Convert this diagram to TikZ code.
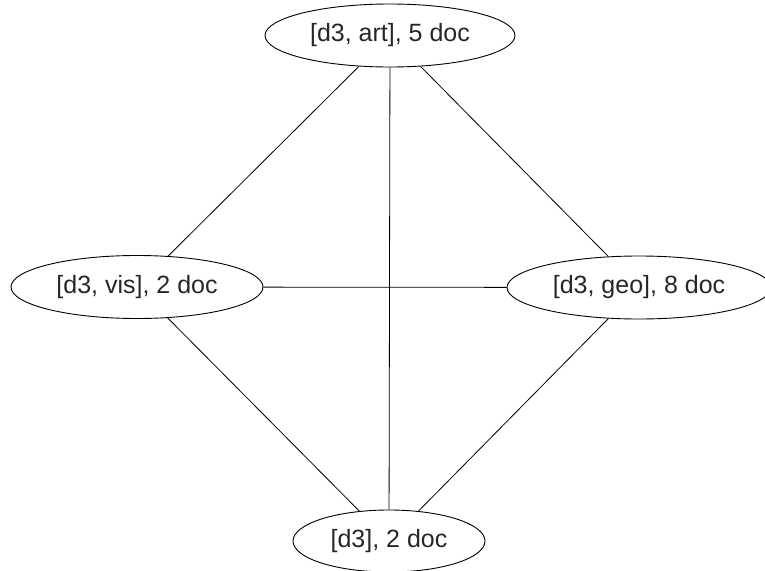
\documentclass[tikz,border=0pt]{standalone}
\usepackage{fontspec}
\setmainfont{Liberation Sans}
\usetikzlibrary{shapes.geometric}
\tikzset{
  termnode/.style={ellipse, draw=black, line width=0.9pt, inner sep=0pt,
    minimum height=63pt, font=\fontsize{25}{30}\selectfont, text=black!85},
  link/.style={draw=black, line width=0.8pt}
}
\begin{document}
\begin{tikzpicture}[x=1pt, y=-1pt]
  \useasboundingbox (0,0) rectangle (765,570);
  \node[termnode, minimum width=250pt] (art) at (390,35.5) {[d3, art], 5 doc};
  \node[termnode, minimum width=252pt] (vis) at (137,287) {[d3, vis], 2 doc};
  \node[termnode, minimum width=264pt] (geo) at (639,287.5) {[d3, geo], 8 doc};
  \node[termnode, minimum width=192pt, minimum height=62pt] (root) at (389,541) {[d3], 2 doc};
  \path[link] (art) -- (vis);
  \path[link] (art) -- (geo);
  \path[link] (art) -- (root);
  \path[link] (vis) -- (geo);
  \path[link] (vis) -- (root);
  \path[link] (geo) -- (root);
\end{tikzpicture}
\end{document}
